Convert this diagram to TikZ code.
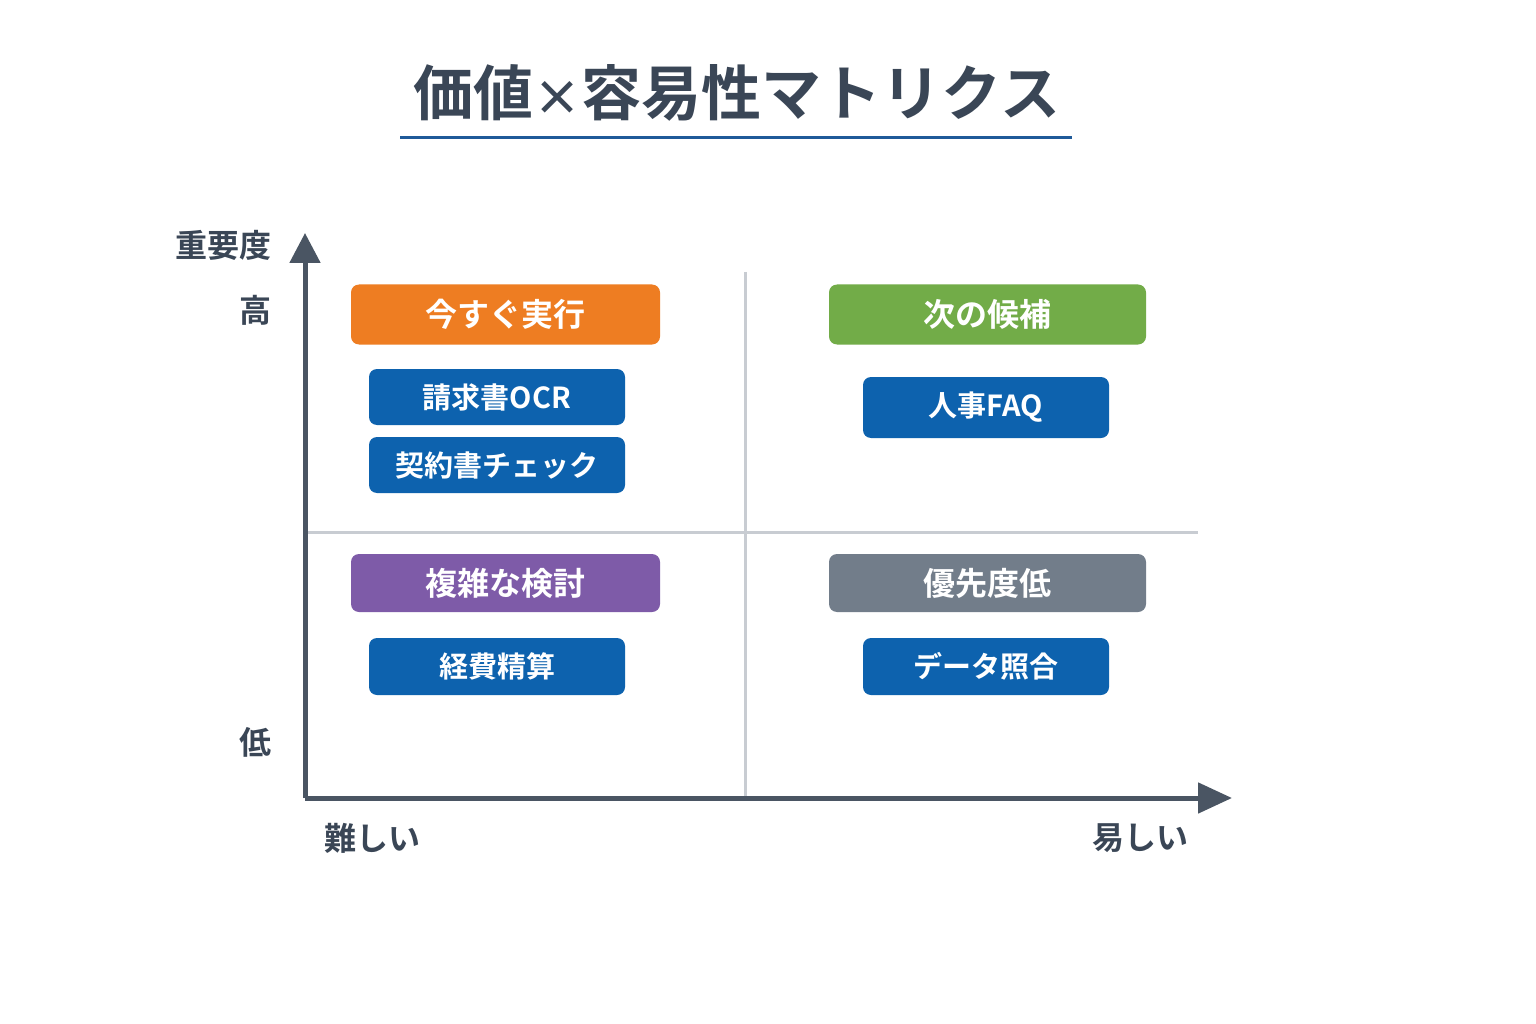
\documentclass[tikz,border=0pt]{standalone}
\usepackage{fontspec}
\setmainfont{Noto Sans CJK JP}[BoldFont={* Bold}]
\usetikzlibrary{arrows.meta}
\definecolor{cOr}{HTML}{EE7D22}
\definecolor{cGr}{HTML}{72AC48}
\definecolor{cPu}{HTML}{7E5BA8}
\definecolor{cGy}{HTML}{727D8A}
\definecolor{cBl}{HTML}{0D62AE}
\definecolor{cAx}{HTML}{4A5563}
\definecolor{cTi}{HTML}{3A4656}
\definecolor{cUl}{HTML}{1F5A99}
\definecolor{cGrid}{HTML}{C8CCD2}
\begin{document}
\begin{tikzpicture}[x=1pt,y=-1pt,
  hdr/.style={rounded corners=8pt, text=white, font=\fontsize{32}{38}\selectfont\bfseries, minimum width=309pt, minimum height=60pt, inner sep=0pt},
  item/.style={rounded corners=8pt, fill=cBl, text=white, font=\fontsize{29}{34}\selectfont\bfseries, minimum width=256pt, minimum height=56pt, inner sep=0pt},
  lab/.style={text=cTi, font=\fontsize{32}{38}\selectfont\bfseries, inner sep=0pt}]
\useasboundingbox (0,0) rectangle (1536,1024);
\fill[white] (0,0) rectangle (1536,1024);
\node[text=cTi, font=\fontsize{60}{70}\selectfont\bfseries, inner sep=0pt] (title) at (737,93) {価値{\fontsize{48}{60}\selectfont ×}容易性マトリクス};
\draw[cUl, line width=3pt] (400,138) coordinate (u1) -- (1072,138) coordinate (u2);
% grid
\draw[cGrid, line width=3pt] (745,272) coordinate (g1) -- (745,798) coordinate (g2);
\draw[cGrid, line width=3pt] (308,532) coordinate (g3) -- (1198,532) coordinate (g4);
% axes
\coordinate (o) at (305,798);
\coordinate (ytop) at (305,233);
\coordinate (xr) at (1232,798);
\draw[cAx, line width=5pt, -{Triangle[length=30pt,width=30pt]}] (o) -- (ytop);
\draw[cAx, line width=5pt, -{Triangle[length=34pt,width=30pt]}] (o) -- (xr);
% labels
\node[lab] (imp) at (223,245) {重要度};
\node[lab] (hi) at (255,310) {高};
\node[lab] (lo) at (255,742) {低};
\node[lab] (hard) at (372,838) {難しい};
\node[lab] (easy) at (1140,838) {易しい};
% boxes
\node[hdr, fill=cOr] (now) at (505.5,314.5) {今すぐ実行};
\node[item] (ocr) at (497,397) {請求書OCR};
\node[item] (chk) at (497,465) {契約書チェック};
\node[hdr, fill=cGr, minimum width=317pt] (next) at (987.5,314.5) {次の候補};
\node[item, minimum width=246pt, minimum height=61pt] (faq) at (986,407.5) {人事FAQ};
\node[hdr, fill=cPu, minimum height=58pt] (cplx) at (505.5,583) {複雑な検討};
\node[item, minimum height=57pt] (exp) at (497,666.5) {経費精算};
\node[hdr, fill=cGy, minimum width=317pt, minimum height=58pt] (low) at (987.5,583) {優先度低};
\node[item, minimum width=246pt, minimum height=57pt] (data) at (986,666.5) {データ照合};
\end{tikzpicture}
\end{document}
